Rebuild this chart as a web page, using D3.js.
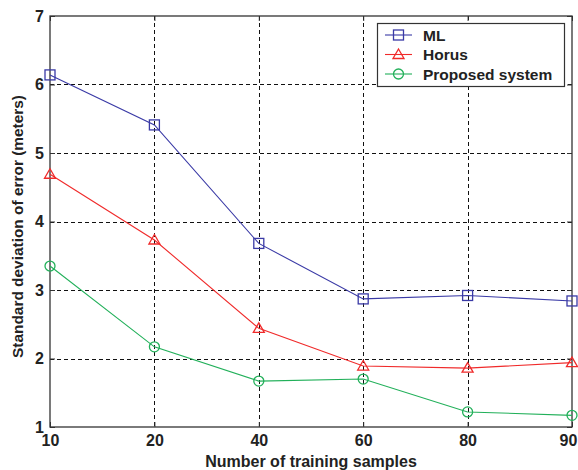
<!DOCTYPE html>
<html>
<head>
<meta charset="utf-8">
<script src="https://cdn.jsdelivr.net/npm/d3@7"></script>
<style>
  html, body { margin: 0; padding: 0; background: #fff; }
  svg { display: block; }
  text { font-family: "Liberation Sans", Arial, Helvetica, sans-serif; font-weight: bold; fill: #222; }
</style>
</head>
<body>
<svg id="chart" width="578" height="470"></svg>
<script>
// Training-set sizes on the x axis (evenly spaced categories)
const samples = ["10", "20", "40", "60", "80", "90"];
// Standard deviation of the positioning error, in meters
const mlValues       = [6.14, 5.41, 3.68, 2.87, 2.92, 2.84];
const horusValues    = [4.69, 3.73, 2.44, 1.89, 1.86, 1.94];
const proposedValues = [3.35, 2.17, 1.67, 1.70, 1.22, 1.17];
const yTicks = [1, 2, 3, 4, 5, 6, 7];
const seriesNames = ["ML", "Horus", "Proposed system"];

const series = [
  { name: seriesNames[0], values: mlValues,       color: "#3a3aa6", marker: "square" },
  { name: seriesNames[1], values: horusValues,    color: "#f02a2a", marker: "triangle" },
  { name: seriesNames[2], values: proposedValues, color: "#22b05a", marker: "circle" }
];

const svg = d3.select("#chart");
const plotL = 50, plotR = 572, plotT = 16, plotB = 427;

const x = d3.scalePoint().domain(samples).range([plotL, plotR]);
const y = d3.scaleLinear().domain([1, 7]).range([plotB, plotT]);

// Dashed grid at the interior ticks
const grid = svg.append("g").attr("stroke", "#111").attr("stroke-width", 1)
  .attr("stroke-dasharray", "4,3").attr("fill", "none");
grid.selectAll("line.gx").data(samples.slice(1, -1)).join("line")
  .attr("x1", d => Math.round(x(d)) + 0.5).attr("x2", d => Math.round(x(d)) + 0.5)
  .attr("y1", plotT).attr("y2", plotB);
grid.selectAll("line.gy").data(yTicks.slice(1, -1)).join("line")
  .attr("y1", d => Math.round(y(d)) + 0.5).attr("y2", d => Math.round(y(d)) + 0.5)
  .attr("x1", plotL).attr("x2", plotR);

// Axes with inward ticks on all four sides
const axB = svg.append("g").attr("transform", `translate(0,${plotB})`)
  .call(d3.axisBottom(x).tickSizeInner(-5).tickSizeOuter(0).tickPadding(8));
const axT = svg.append("g").attr("transform", `translate(0,${plotT})`)
  .call(d3.axisTop(x).tickSizeInner(-5).tickSizeOuter(0).tickFormat(""));
const axL = svg.append("g").attr("transform", `translate(${plotL},0)`)
  .call(d3.axisLeft(y).tickValues(yTicks).tickFormat(d3.format("d")).tickSizeInner(-5).tickSizeOuter(0).tickPadding(6));
const axR = svg.append("g").attr("transform", `translate(${plotR},0)`)
  .call(d3.axisRight(y).tickValues(yTicks).tickSizeInner(-5).tickSizeOuter(0).tickFormat(""));
[axB, axT, axL, axR].forEach(g => {
  g.select(".domain").remove();
  g.selectAll(".tick line").attr("stroke", "#333");
  g.selectAll("text").attr("font-size", 16).attr("fill", "#222")
    .style("font-family", '"Liberation Sans", Arial, sans-serif').style("font-weight", "bold");
});
// keep the last x label inside the canvas
axB.selectAll(".tick text").filter(d => d === samples[samples.length - 1]).attr("dx", -4);

// Plot frame
svg.append("rect").attr("x", plotL).attr("y", plotT)
  .attr("width", plotR - plotL).attr("height", plotB - plotT)
  .attr("fill", "none").attr("stroke", "#333").attr("stroke-width", 1.3);

// Marker shapes
function drawMarker(g, type, cx, cy, color) {
  if (type === "square") {
    g.append("rect").attr("x", cx - 5).attr("y", cy - 5).attr("width", 10).attr("height", 10)
      .attr("fill", "none").attr("stroke", color).attr("stroke-width", 1.3);
  } else if (type === "triangle") {
    g.append("path").attr("d", `M${cx},${cy - 5.5}L${cx + 5.5},${cy + 4}L${cx - 5.5},${cy + 4}Z`)
      .attr("fill", "none").attr("stroke", color).attr("stroke-width", 1.3);
  } else {
    g.append("circle").attr("cx", cx).attr("cy", cy).attr("r", 5)
      .attr("fill", "none").attr("stroke", color).attr("stroke-width", 1.3);
  }
}

const line = d3.line().x((d, i) => x(samples[i])).y(d => y(d));
series.forEach(s => {
  const g = svg.append("g");
  g.append("path").datum(s.values).attr("d", line)
    .attr("fill", "none").attr("stroke", s.color).attr("stroke-width", 1.1);
  s.values.forEach((v, i) => drawMarker(g, s.marker, x(samples[i]), y(v), s.color));
});

// Legend
const lg = svg.append("g");
lg.append("rect").attr("x", 377.5).attr("y", 23.5).attr("width", 187).attr("height", 63)
  .attr("fill", "#fff").attr("stroke", "#333").attr("stroke-width", 1.2);
series.forEach((s, i) => {
  const cy = 35 + i * 19.5;
  lg.append("line").attr("x1", 385).attr("x2", 412).attr("y1", cy).attr("y2", cy)
    .attr("stroke", s.color).attr("stroke-width", 1.1);
  drawMarker(lg, s.marker, 398.5, cy, s.color);
  lg.append("text").attr("x", 423).attr("y", cy + 5.5).attr("font-size", 15.5).text(s.name);
});

// Axis titles
svg.append("text").attr("x", (plotL + plotR) / 2).attr("y", 467)
  .attr("text-anchor", "middle").attr("font-size", 16).text("Number of training samples");
svg.append("text").attr("transform", "translate(23,226.5) rotate(-90)")
  .attr("text-anchor", "middle").attr("font-size", 15)
  .attr("textLength", 263).attr("lengthAdjust", "spacingAndGlyphs")
  .text("Standard deviation of error (meters)");
</script>
</body>
</html>
